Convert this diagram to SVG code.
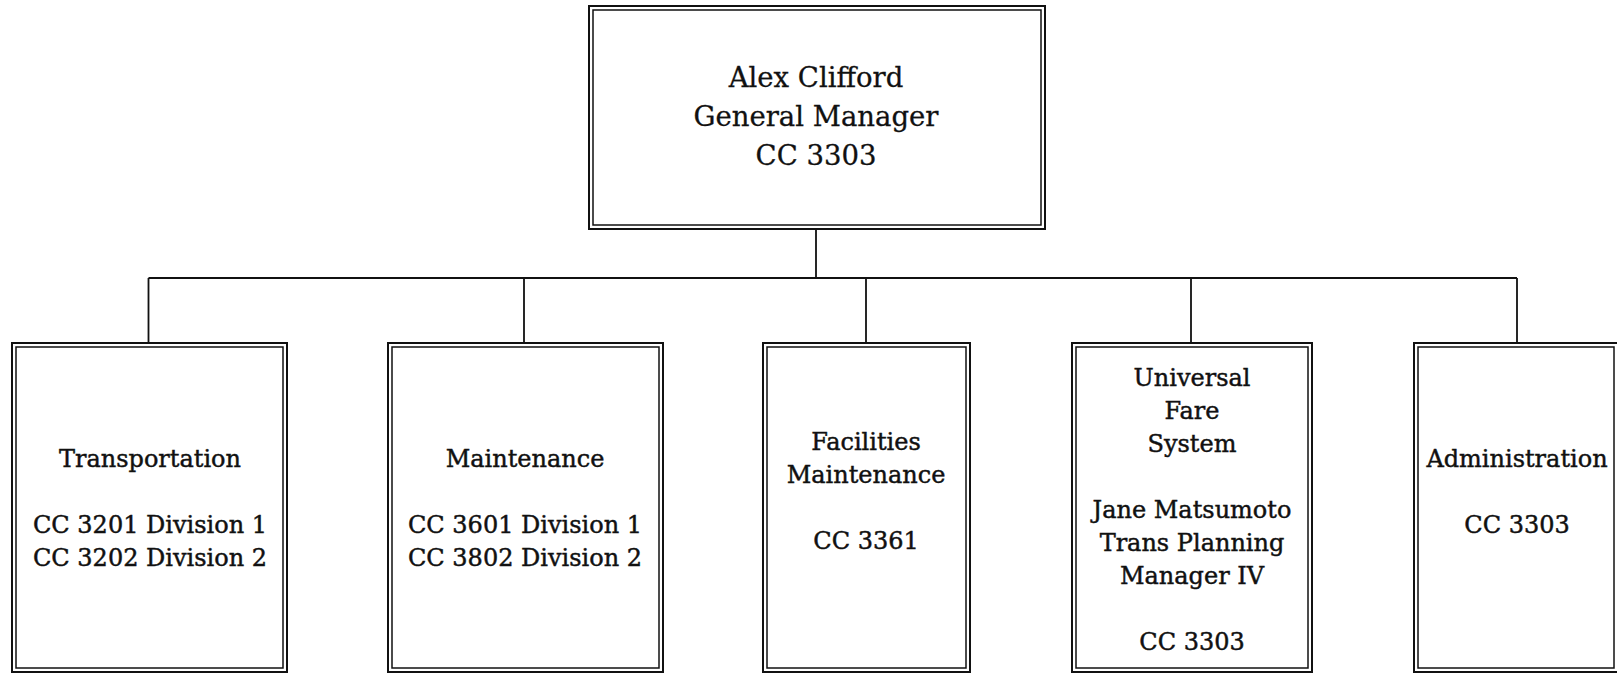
<svg xmlns="http://www.w3.org/2000/svg" width="1617" height="674" viewBox="0 0 1617 674">
<style>
.o{fill:#fff;stroke:#111;stroke-width:2}
.i{fill:none;stroke:#111;stroke-width:1.5}
.c{fill:none;stroke:#111;stroke-width:1.8}
text{font-family:"DejaVu Serif","Liberation Serif",serif;fill:#111;text-anchor:middle;stroke:#111}
.t{font-size:27.5px;stroke-width:0.3}
.b{font-size:24px;stroke-width:0.45}
</style>
<rect width="1617" height="674" fill="#fff"/>
<g id="connectors">
<path class="c" d="M816 229V278M148.5 278H1517M148.5 278V343M524 278V343M866 278V343M1191 278V343M1517 278V343"/>
</g>
<g id="gm">
<rect class="o" x="589" y="6" width="456" height="223"/>
<rect class="i" x="593" y="10" width="448" height="215"/>
<text class="t" x="816" y="87">Alex Clifford</text>
<text class="t" x="816" y="126">General Manager</text>
<text class="t" x="816" y="165">CC 3303</text>
</g>
<g id="transportation">
<rect class="o" x="12" y="343" width="275" height="329"/>
<rect class="i" x="16" y="347" width="267" height="321"/>
<text class="b" x="150" y="467">Transportation</text>
<text class="b" x="150" y="533">CC 3201 Division 1</text>
<text class="b" x="150" y="566">CC 3202 Division 2</text>
</g>
<g id="maintenance">
<rect class="o" x="388" y="343" width="275" height="329"/>
<rect class="i" x="392" y="347" width="267" height="321"/>
<text class="b" x="525" y="467">Maintenance</text>
<text class="b" x="525" y="533">CC 3601 Division 1</text>
<text class="b" x="525" y="566">CC 3802 Division 2</text>
</g>
<g id="facilities">
<rect class="o" x="763" y="343" width="207" height="329"/>
<rect class="i" x="767" y="347" width="199" height="321"/>
<text class="b" x="866" y="450">Facilities</text>
<text class="b" x="866" y="483">Maintenance</text>
<text class="b" x="866" y="549">CC 3361</text>
</g>
<g id="ufs">
<rect class="o" x="1072" y="343" width="240" height="329"/>
<rect class="i" x="1076" y="347" width="232" height="321"/>
<text class="b" x="1192" y="386">Universal</text>
<text class="b" x="1192" y="419">Fare</text>
<text class="b" x="1192" y="452">System</text>
<text class="b" x="1192" y="518">Jane Matsumoto</text>
<text class="b" x="1192" y="551">Trans Planning</text>
<text class="b" x="1192" y="584">Manager IV</text>
<text class="b" x="1192" y="650">CC 3303</text>
</g>
<g id="administration">
<rect class="o" x="1414" y="343" width="204" height="329"/>
<rect class="i" x="1418" y="347" width="196" height="321"/>
<text class="b" x="1517" y="467">Administration</text>
<text class="b" x="1517" y="533">CC 3303</text>
</g>
</svg>
